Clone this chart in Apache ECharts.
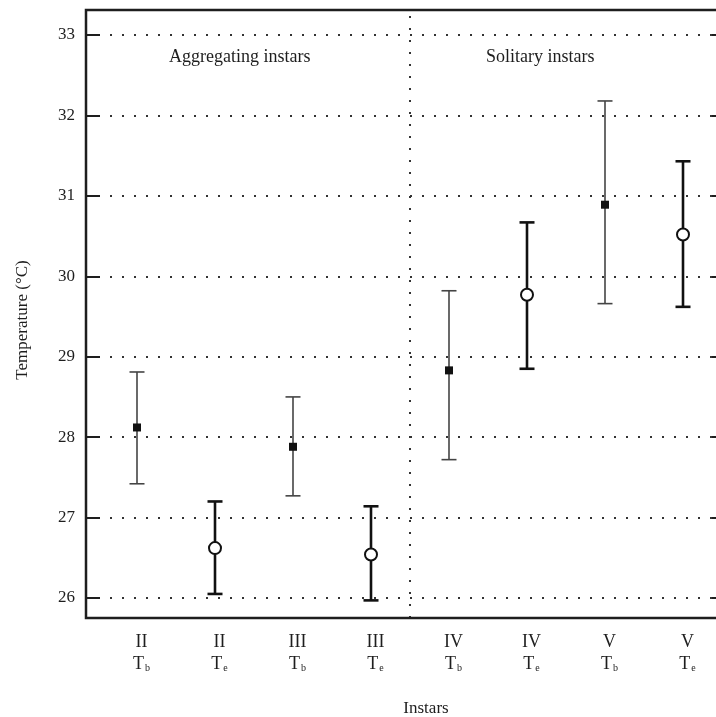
<!DOCTYPE html>
<html>
<head>
<meta charset="utf-8">
<script src="https://cdn.jsdelivr.net/npm/echarts@6/dist/echarts.min.js"></script>
<style>html,body{margin:0;padding:0;background:#fff;}#c{width:716px;height:717px;}</style>
</head>
<body>
<div id="c"></div>
<script>
// ---- data ----
var instars = ['II', 'II', 'III', 'III', 'IV', 'IV', 'V', 'V'];
var measures = ['b', 'e', 'b', 'e', 'b', 'e', 'b', 'e']; // Tb = body, Te = operative
var groups = ['agg', 'agg', 'agg', 'agg', 'sol', 'sol', 'sol', 'sol'];
var means = [28.12, 26.62, 27.88, 26.54, 28.83, 29.77, 30.89, 30.52];
var lower = [27.42, 26.05, 27.27, 25.97, 27.72, 28.85, 29.66, 29.62];
var upper = [28.81, 27.20, 28.50, 27.14, 29.82, 30.67, 32.18, 31.43];
var yTicks = [26, 27, 28, 29, 30, 31, 32, 33];
var groupLabels = ['Aggregating instars', 'Solitary instars'];

var SERIF = '"Liberation Serif", "DejaVu Serif", serif';
var INK = '#1e1e1e';

var categories = instars.map(function (v, i) { return v + ' T' + measures[i]; });
var nAgg = groups.filter(function (g) { return g === 'agg'; }).length;

var errData = categories.map(function (c, i) { return [i, lower[i], upper[i], measures[i]]; });
var tbData = [], teData = [];
categories.forEach(function (c, i) {
  if (measures[i] === 'b') tbData.push([i, means[i]]); else teData.push([i, means[i]]);
});

var chart = echarts.init(document.getElementById('c'), null, {renderer: 'canvas'});

chart.setOption({
  backgroundColor: '#fff',
  animation: false,
  grid: {left: 98, right: -6, top: 10, bottom: 99, containLabel: false, outerBoundsMode: 'none'},
  graphic: [
    {type: 'rect', shape: {x: 86, y: 10, width: 640, height: 608}, z: 10,
     style: {fill: null, stroke: INK, lineWidth: 2.5}},
    {type: 'text', left: 169, top: 48, z: 10,
     style: {text: groupLabels[0], font: '18px ' + SERIF, fill: INK}},
    {type: 'text', left: 486, top: 48, z: 10,
     style: {text: groupLabels[1], font: '18px ' + SERIF, fill: INK}}
  ],
  xAxis: [{
    type: 'category',
    data: categories,
    boundaryGap: true,
    axisLine: {show: false},
    axisTick: {show: false},
    axisLabel: {
      margin: 13,
      interval: 0,
      padding: [0, 0, 0, 9],
      formatter: function (v, i) {
        return '{r|' + instars[i] + '}\n{t|T}{s|' + measures[i] + '}';
      },
      rich: {
        r: {fontFamily: SERIF, fontSize: 18, color: INK, lineHeight: 22},
        t: {fontFamily: SERIF, fontSize: 18, color: INK, lineHeight: 22},
        s: {fontFamily: SERIF, fontSize: 10, color: INK, padding: [9, 0, 0, 1]}
      }
    },
    splitLine: {show: false},
    name: 'Instars',
    nameLocation: 'middle',
    nameGap: 82,
    nameTextStyle: {fontFamily: SERIF, fontSize: 17, color: INK, padding: [0, 0, 0, 32]}
  }, {
    type: 'value',
    show: false,
    min: -0.5,
    max: categories.length - 0.5,
    axisLine: {onZero: false}
  }],
  yAxis: [{
    type: 'value',
    min: 25.751,
    max: 33.311,
    offset: 12,
    axisLine: {show: false, onZero: false},
    axisTick: {show: true, inside: true, length: 14, customValues: yTicks,
               lineStyle: {color: INK, width: 2}},
    axisLabel: {customValues: yTicks, margin: 11, fontFamily: SERIF, fontSize: 17, color: INK},
    splitLine: {show: true, lineStyle: {color: '#333', width: 2, type: [2, 10]}},
    name: 'Temperature (°C)',
    nameLocation: 'middle',
    nameGap: 55,
    nameTextStyle: {fontFamily: SERIF, fontSize: 17, color: INK, padding: [0, 12, 0, 0]}
  }, {
    type: 'value',
    position: 'right',
    min: 25.751,
    max: 33.311,
    offset: 2,
    axisLine: {show: false, onZero: false},
    axisTick: {show: true, inside: true, length: 12, customValues: yTicks,
               lineStyle: {color: INK, width: 2}},
    axisLabel: {show: false, customValues: yTicks},
    splitLine: {show: false}
  }],
  series: [
    {
      type: 'line',
      xAxisIndex: 1,
      yAxisIndex: 0,
      data: [],
      silent: true,
      markLine: {
        silent: true,
        symbol: ['none', 'none'],
        label: {show: false},
        lineStyle: {color: '#333', width: 2, type: [2, 10]},
        data: [{xAxis: nAgg - 0.5}]
      }
    },
    {
      type: 'custom',
      data: errData,
      z: 3,
      renderItem: function (params, api) {
        var x = api.value(0);
        var lo = api.coord([x, api.value(1)]);
        var hi = api.coord([x, api.value(2)]);
        var isE = errData[params.dataIndex][3] === 'e';
        var w = 15;
        var style = {stroke: isE ? '#111' : '#444', lineWidth: isE ? 2.6 : 1.6};
        return {
          type: 'group',
          children: [
            {type: 'line', shape: {x1: lo[0], y1: lo[1], x2: hi[0], y2: hi[1]}, style: style},
            {type: 'line', shape: {x1: lo[0] - w / 2, y1: lo[1], x2: lo[0] + w / 2, y2: lo[1]}, style: style},
            {type: 'line', shape: {x1: hi[0] - w / 2, y1: hi[1], x2: hi[0] + w / 2, y2: hi[1]}, style: style}
          ]
        };
      }
    },
    {
      type: 'scatter',
      data: tbData,
      z: 5,
      symbol: 'rect',
      symbolSize: 8,
      itemStyle: {color: '#111', opacity: 1}
    },
    {
      type: 'scatter',
      data: teData,
      z: 5,
      symbol: 'circle',
      symbolSize: 12,
      itemStyle: {color: '#fff', borderColor: '#111', borderWidth: 2, opacity: 1}
    }
  ]
});
</script>
</body>
</html>
